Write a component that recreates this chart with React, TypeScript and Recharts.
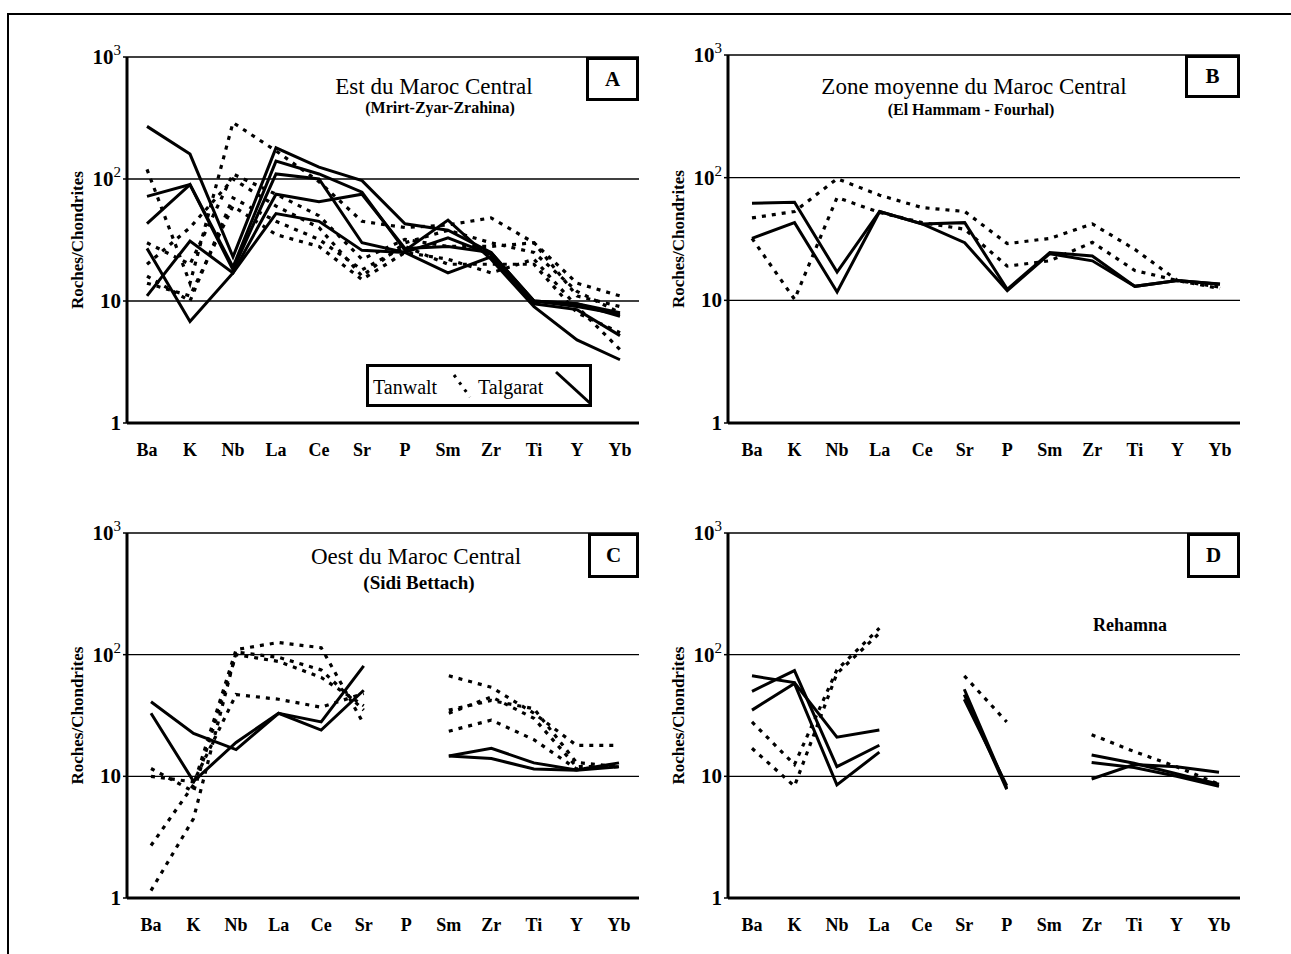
import React from "react";
import { LineChart, Line, XAxis, YAxis, CartesianGrid, Legend } from "recharts";

type V = number | null;

const elements = ["Ba", "K", "Nb", "La", "Ce", "Sr", "P", "Sm", "Zr", "Ti", "Y", "Yb"];
const yTicks = [1, 10, 100, 1000];

// Panel A – Est du Maroc Central
const aTalgarat: V[][] = [
  [270, 160, 23, 180, 125, 97, 43, 38, 25, 10, 9.5, 8],
  [72, 90, 19, 140, 110, 78, 26, 46, 22, 9, 4.8, 3.3],
  [43, 90, 18, 110, 100, 30, 25, 33, 24, 9.5, 8.5, 5.2],
  [11, 31, 17, 52, 45, 26, 25, 17, 23, 10, 9, 7.8],
  [27, 6.8, 17, 75, 65, 75, 27, 28, 25, 10, 9.5, 7.5],
];
const aTanwalt: V[][] = [
  [120, 14, 290, 170, 95, 45, 40, 42, 48, 30, 14, 11],
  [20, 40, 100, 60, 40, 16, 30, 38, 30, 25, 12, 8],
  [14, 11, 60, 35, 28, 15, 25, 22, 17, 22, 9, 4],
  [30, 20, 110, 75, 50, 22, 32, 28, 28, 30, 11, 9],
  [16, 10, 70, 45, 32, 18, 28, 20, 20, 20, 8, 5.5],
];

// Panel B – Zone moyenne
const bSolid: V[][] = [
  [62, 63, 17, 53, 42, 43, 12.3, 24.5, 23, 13, 14.5, 13.6],
  [32, 43, 11.7, 53, 42, 29.5, 12, 24, 21, 13, 14.5, 13.5],
];
const bDotted: V[][] = [
  [47, 53, 98, 72, 57, 53, 29, 32, 42, 26, 14.5, 12.8],
  [32, 10.2, 69, 52, 43, 38, 19, 21, 29.7, 17.5, 14.5, 12.5],
];

// Panel C – Ouest (Sidi Bettach)
const cSolid: V[][] = [
  [41, 22.5, 16.6, 33, 28, 81, null, 14.7, 17, 12.9, 11.3, 12.9],
  [33, 9.1, 19, 33, 24, 51, null, 14.7, 14, 11.5, 11.2, 12],
];
const cDotted: V[][] = [
  [11.6, 7.5, 100, 88, 65, 38, null, 33, 45, 30, 12, 12],
  [2.7, 8.5, 110, 126, 114, 27, null, 67, 54, 33, 18, 18],
  [1.15, 4.5, 105, 95, 75, 35, null, 23.5, 29, 20, 11.5, 12],
  [10, 9, 47, 43, 37, 48, null, 35, 42, 36, 13, 12],
];

// Panel D – Rehamna
const dSolid: V[][] = [
  [67, 59, 21, 24, null, 52, 8, null, 15, 12.8, 10.5, 8.6],
  [50, 74, 12, 18, null, 47, 7.8, null, 13, 11.8, 10, 8.3],
  [35, 58, 8.5, 15.8, null, 43, 8.4, null, 9.5, 12.5, 12, 10.8],
];
const dDotted: V[][] = [
  [28, 12.5, 75, 165, null, 67, 28, null, 22, 16, 12, 8.6],
  [17, 8.3, 70, 150, null, null, null, null, null, null, null, null],
];

const FONT = '"Liberation Serif", "Times New Roman", Times, serif';

function buildRows(solid: V[][], dotted: V[][]) {
  return elements.map((el, i) => {
    const row: Record<string, any> = { el };
    solid.forEach((s, j) => (row[`s${j}`] = s[i]));
    dotted.forEach((s, j) => (row[`d${j}`] = s[i]));
    return row;
  });
}

const YTick = (props: any) => {
  const { x, y, payload } = props;
  const v = payload.value as number;
  const exp = Math.round(Math.log10(v));
  return (
    <text x={x} y={y} dy={7} textAnchor="end" fontFamily={FONT} fontWeight="bold" fontSize={21} fill="#000">
      {exp >= 2 ? (
        <>
          <tspan>10</tspan>
          <tspan dy={-9} fontSize={15} fontWeight="normal">{exp}</tspan>
        </>
      ) : (
        String(v)
      )}
    </text>
  );
};

const XTick = (props: any) => {
  const { x, y, payload } = props;
  return (
    <text x={x} y={y} dy={27} textAnchor="middle" fontFamily={FONT} fontWeight="bold" fontSize={18} fill="#000">
      {payload.value}
    </text>
  );
};

const YLabel = (props: any) => {
  const vb = props.viewBox || {};
  const cx = (vb.x || 0) + 10;
  const cy = (vb.y || 0) + (vb.height || 0) / 2;
  return (
    <text
      x={cx}
      y={cy}
      transform={`rotate(-90, ${cx}, ${cy})`}
      textAnchor="middle"
      dominantBaseline="central"
      fontFamily={FONT}
      fontWeight="bold"
      fontSize={17}
      fill="#000"
    >
      Roches/Chondrites
    </text>
  );
};

type PanelProps = {
  left: number;
  top: number;
  plotW: number;
  plotH: number;
  solid: V[][];
  dotted: V[][];
  padL: number;
  padR: number;
  legend?: boolean;
};

const M_TOP = 20;
const M_RIGHT = 10;
const Y_W = 60;
const X_H = 40;

const LegendBox = () => (
  <div
    style={{
      width: 226,
      height: 43,
      border: "3px solid #000",
      boxSizing: "border-box",
      background: "#fff",
      position: "relative",
      fontFamily: FONT,
      fontSize: 20,
      color: "#000",
    }}
  >
    <span style={{ position: "absolute", left: 4, top: 9 }}>Tanwalt</span>
    <span style={{ position: "absolute", left: 109, top: 9 }}>Talgarat</span>
    <svg width={226} height={43} style={{ position: "absolute", left: -3, top: -3 }}>
      <line x1={88} y1={11} x2={104} y2={33} stroke="#000" strokeWidth={3} strokeDasharray="3 6" />
      <line x1={190} y1={8} x2={226} y2={41} stroke="#000" strokeWidth={3} />
    </svg>
  </div>
);

function Panel({ left, top, plotW, plotH, solid, dotted, padL, padR, legend }: PanelProps) {
  const data = buildRows(solid, dotted);
  return (
    <div style={{ position: "absolute", left: left - Y_W, top: top - M_TOP }}>
      <LineChart
        width={Y_W + plotW + M_RIGHT}
        height={M_TOP + plotH + X_H}
        data={data}
        margin={{ top: M_TOP, right: M_RIGHT, bottom: 0, left: 0 }}
      >
        <CartesianGrid vertical={false} stroke="#000" strokeWidth={1.4} />
        <XAxis
          dataKey="el"
          type="category"
          interval={0}
          padding={{ left: padL, right: padR }}
          height={X_H}
          tick={<XTick />}
          tickLine={false}
          tickSize={4}
          tickMargin={2}
          axisLine={{ stroke: "#000", strokeWidth: 3 }}
        />
        <XAxis
          xAxisId="top"
          dataKey="el"
          orientation="top"
          height={0}
          tick={false}
          tickLine={false}
          axisLine={{ stroke: "#000", strokeWidth: 3 }}
        />
        <YAxis
          type="number"
          scale="log"
          domain={[1, 1000]}
          ticks={yTicks}
          allowDataOverflow
          width={Y_W}
          tick={<YTick />}
          tickSize={4}
          tickMargin={2}
          tickLine={{ stroke: "#000", strokeWidth: 1.5 }}
          axisLine={{ stroke: "#000", strokeWidth: 3 }}
          label={<YLabel />}
        />
        <YAxis
          yAxisId="right"
          orientation="right"
          type="number"
          scale="log"
          domain={[1, 1000]}
          ticks={yTicks}
          allowDataOverflow
          width={0}
          tick={false}
          tickLine={false}
          axisLine={{ stroke: "#000", strokeWidth: 3 }}
        />
        {dotted.map((_, j) => (
          <Line
            key={`d${j}`}
            dataKey={`d${j}`}
            type="linear"
            stroke="#000"
            strokeWidth={3.2}
            strokeDasharray="4 6"
            dot={false}
            activeDot={false}
            connectNulls={false}
            isAnimationActive={false}
          />
        ))}
        {solid.map((_, j) => (
          <Line
            key={`s${j}`}
            dataKey={`s${j}`}
            type="linear"
            stroke="#000"
            strokeWidth={3}
            dot={false}
            activeDot={false}
            connectNulls={false}
            isAnimationActive={false}
          />
        ))}
        {legend ? (
          <Legend
            layout="horizontal"
            verticalAlign="middle"
            align="center"
            content={() => <LegendBox />}
            wrapperStyle={{ position: "absolute", left: 366 - left + Y_W, top: 364 - top + M_TOP, width: 226, height: 43 }}
          />
        ) : null}
      </LineChart>
    </div>
  );
}

const boxStyle = (left: number, top: number, w: number, h: number): React.CSSProperties => ({
  position: "absolute",
  left,
  top,
  width: w,
  height: h,
  border: "3px solid #000",
  boxSizing: "border-box",
  background: "#fff",
  display: "flex",
  alignItems: "center",
  justifyContent: "center",
  fontFamily: FONT,
  fontWeight: "bold",
  fontSize: 21,
  color: "#000",
});

const textStyle = (cx: number, baseline: number, size: number, bold: boolean): React.CSSProperties => ({
  position: "absolute",
  left: cx,
  top: baseline - size * 0.89,
  transform: "translateX(-50%)",
  whiteSpace: "nowrap",
  fontFamily: FONT,
  fontSize: size,
  lineHeight: 1,
  fontWeight: bold ? "bold" : "normal",
  color: "#000",
});

export default function App() {
  return (
    <div
      style={{
        position: "absolute",
        left: 0,
        top: 0,
        width: 1291,
        height: 954,
        background: "#fff",
        overflow: "hidden",
      }}
    >
      {/* scan frame */}
      <div style={{ position: "absolute", left: 7, top: 13, width: 1284, height: 0, borderTop: "2px solid #000" }} />
      <div style={{ position: "absolute", left: 7, top: 13, width: 0, height: 941, borderLeft: "2px solid #000" }} />

      <Panel left={127} top={57} plotW={512} plotH={366} solid={aTalgarat} dotted={aTanwalt} padL={20} padR={19} legend />
      <Panel left={728} top={55} plotW={512} plotH={368} solid={bSolid} dotted={bDotted} padL={24} padR={20} />
      <Panel left={127} top={533} plotW={512} plotH={365} solid={cSolid} dotted={cDotted} padL={24} padR={20} />
      <Panel left={728} top={533} plotW={512} plotH={365} solid={dSolid} dotted={dDotted} padL={24} padR={21} />

      {/* Panel A texts */}
      <div style={textStyle(434, 95, 23, false)}>Est du Maroc Central</div>
      <div style={textStyle(440, 114, 16, true)}>(Mrirt-Zyar-Zrahina)</div>
      <div style={boxStyle(586, 57, 53, 44)}>A</div>

      {/* Panel B texts */}
      <div style={textStyle(974, 95, 23, false)}>Zone moyenne du Maroc Central</div>
      <div style={textStyle(971, 116, 16, true)}>(El Hammam - Fourhal)</div>
      <div style={boxStyle(1185, 55, 55, 43)}>B</div>

      {/* Panel C texts */}
      <div style={textStyle(416, 565, 23, false)}>Oest du Maroc Central</div>
      <div style={textStyle(419, 590, 19, true)}>(Sidi Bettach)</div>
      <div style={boxStyle(588, 533, 51, 45)}>C</div>

      {/* Panel D texts */}
      <div style={boxStyle(1187, 533, 53, 45)}>D</div>
      <div style={{ ...textStyle(1130, 632, 18, true) }}>Rehamna</div>
    </div>
  );
}
